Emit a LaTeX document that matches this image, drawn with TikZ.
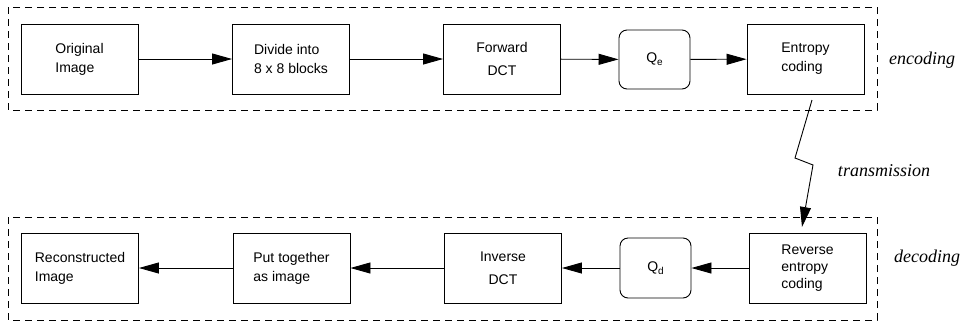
\documentclass[tikz,border=0pt]{standalone}
\usepackage{fontspec}
\setmainfont{Liberation Serif}
\newfontfamily\boxfont{Liberation Sans}
\usetikzlibrary{arrows.meta}
\newcommand{\qsub}[1]{\raisebox{-3pt}{\fontsize{10}{10}\selectfont #1}}
\begin{document}
\begin{tikzpicture}[x=1pt,y=-1pt,
  blk/.style={draw,line width=0.9pt,minimum width=117pt,minimum height=70pt,inner sep=0pt,align=left,font=\boxfont\fontsize{14}{19}\selectfont},
  qbox/.style={draw,line width=0.9pt,rounded corners=8pt,minimum width=71pt,minimum height=59pt,inner sep=0pt,font=\boxfont\fontsize{14}{19}\selectfont},
  frame/.style={draw,line width=1pt,dash pattern=on 7pt off 5pt},
  flow/.style={line width=0.9pt,-{Triangle[length=20pt,width=11pt]}},
  lbl/.style={font=\itshape\fontsize{18}{22}\selectfont}
  ]
\useasboundingbox (0,0) rectangle (964,325);
% frames
\draw[frame] (8,7) rectangle (877,110);
\draw[frame] (8,217) rectangle (877,320);
% top row
\node[blk] (b1) at (79.5,59) {Original\\Image};
\node[blk] (b2) at (291,59) {Divide into\\8 x 8 blocks};
\node[blk,align=center,font=\boxfont\fontsize{14}{23}\selectfont] (b3) at (502,59) {Forward\\DCT};
\node[qbox] (qe) at (654.5,59.5) {Q\qsub{e}};
\node[blk] (b5) at (805.5,59) {Entropy\\coding};
% bottom row
\node[blk] (c1) at (80,268) {Reconstructed\\Image};
\node[blk] (c2) at (291.5,268) {Put together\\as image};
\node[blk,align=center,font=\boxfont\fontsize{14}{23}\selectfont] (c3) at (503,268) {Inverse\\DCT};
\node[qbox,minimum height=60pt] (qd) at (655.5,268) {Q\qsub{d}};
\node[blk,font=\boxfont\fontsize{14}{17}\selectfont] (c5) at (807.5,268) {Reverse\\entropy\\coding};
% flow arrows
\draw[flow] (b1) -- (b2);
\draw[flow] (b2) -- (b3);
\draw[flow] (b3) -- (qe);
\draw[flow] (qe) -- (b5);
\draw[flow] (c5) -- (qd);
\draw[flow] (qd) -- (c3);
\draw[flow] (c3) -- (c2);
\draw[flow] (c2) -- (c1);
% transmission zigzag
\coordinate (t0) at (812,100);
\coordinate (t1) at (795,158);
\coordinate (t2) at (813,165);
\coordinate (t3) at (802,227);
\draw[line width=0.9pt,-{Triangle[length=20pt,width=11pt]}] (t0) -- (t1) -- (t2) -- (t3);
% labels
\node[lbl] (enc) at (922,60) {encoding};
\node[lbl] (tra) at (884,171) {transmission};
\node[lbl] (dec) at (927,258) {decoding};
\end{tikzpicture}
\end{document}
